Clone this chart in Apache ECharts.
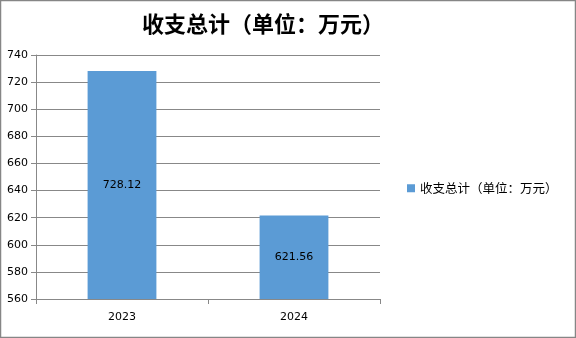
<!DOCTYPE html>
<html><head><meta charset="utf-8">
<script src="https://cdn.jsdelivr.net/npm/echarts@6/dist/echarts.min.js"></script>
<style>html,body{margin:0;padding:0;background:#fff}#c{width:576px;height:338px}</style>
</head><body><div id="c"></div>
<script>
const categories = ['2023', '2024'];
const values = [728.12, 621.56];
const seriesName = '收支总计（单位：万元）';
const titleText = '收支总计（单位：万元）';

const chart = echarts.init(document.getElementById('c'), null, {renderer: 'canvas'});
chart.setOption({
  animation: false,
  backgroundColor: '#fff',
  title: {
    text: titleText, left: 258, top: 8, textAlign: 'center',
    textStyle: {fontFamily: 'Noto Sans CJK SC', fontSize: 22, fontWeight: 'bold', color: '#000'}
  },
  graphic: [{type: 'rect', shape: {x: 0.5, y: 0.5, width: 575, height: 337}, style: {fill: 'none', stroke: '#868686', lineWidth: 1.5}}],
  legend: {
    data: [seriesName], left: 402, top: 177, itemWidth: 8, itemHeight: 8, itemGap: 4,
    icon: 'rect',
    textStyle: {fontFamily: 'Noto Sans CJK SC', fontSize: 12.5, color: '#000'}
  },
  grid: {left: 36, top: 55, width: 344, height: 244, containLabel: false},
  xAxis: {
    type: 'category', data: categories,
    axisLine: {lineStyle: {color: '#888'}},
    axisTick: {show: true, length: 5, lineStyle: {color: '#888'}},
    axisLabel: {color: '#000', fontFamily: 'DejaVu Sans', fontSize: 11, margin: 13}
  },
  yAxis: {
    type: 'value', min: 560, max: 740, interval: 20,
    axisLine: {show: true, lineStyle: {color: '#888'}},
    axisTick: {show: true, length: 5, lineStyle: {color: '#888'}},
    axisLabel: {color: '#000', fontFamily: 'DejaVu Sans', fontSize: 11, margin: 8},
    splitLine: {lineStyle: {color: '#888'}}
  },
  series: [{
    name: seriesName, type: 'bar', data: values, barWidth: '40%',
    itemStyle: {color: '#5b9bd5'},
    label: {show: true, position: 'inside', color: '#000', fontFamily: 'DejaVu Sans', fontSize: 11, formatter: p => p.value.toFixed(2)}
  }]
});
</script></body></html>
